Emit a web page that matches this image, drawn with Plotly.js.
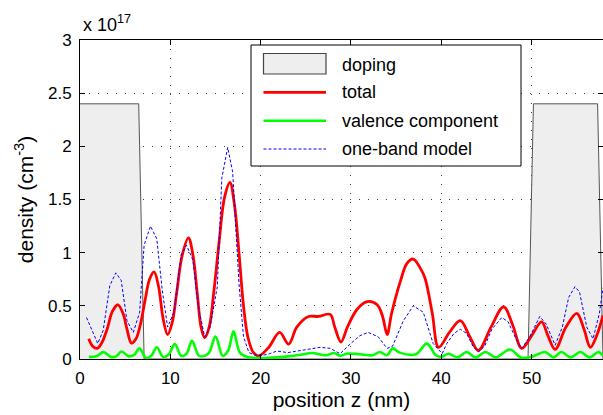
<!DOCTYPE html>
<html>
<head>
<meta charset="utf-8">
<script src="https://cdn.plot.ly/plotly-3.0.1.min.js"></script>
<style>
html,body{margin:0;padding:0;background:#fff;}
#chart{width:603px;height:415px;}
</style>
</head>
<body>
<div id="chart"></div>
<script>
// ---- data (density in units of 1e17 cm^-3, position in nm) ----
var dopingZ = [0, 6.5, 7.1, 49.6, 50.2, 57.3, 57.9];
var dopingV = [2.4, 2.4, 0, 0, 2.4, 2.4, 0];

var totalZ = [0.97,1.4,1.9,2.4,3.0,3.6,4.2,4.8,5.2,5.7,6.2,6.7,7.2,7.7,8.2,8.7,9.2,9.7,10.2,10.7,11.3,12.0,12.5,13.0,13.4,13.8,14.3,14.8,15.4,16.0,16.6,17.1,17.6,18.1,18.6,19.2,19.8,20.9,22.1,23.1,24.0,25.3,26.4,27.7,28.2,28.9,29.6,30.7,31.8,32.9,33.5,34.0,34.5,35.5,36.2,36.9,37.7,38.2,39.0,39.7,40.9,42.1,43.1,44.1,45.5,46.9,47.9,48.9,50.0,51.1,51.8,52.6,53.8,55.0,55.8,56.5,57.2,57.9];
var totalV = [0.19,0.12,0.10,0.15,0.28,0.45,0.51,0.42,0.28,0.15,0.19,0.33,0.55,0.75,0.82,0.68,0.38,0.23,0.34,0.62,0.97,1.14,0.98,0.60,0.30,0.20,0.30,0.62,1.10,1.52,1.66,1.45,1.00,0.50,0.20,0.06,0.03,0.11,0.25,0.14,0.30,0.40,0.40,0.42,0.30,0.16,0.30,0.47,0.54,0.51,0.40,0.23,0.43,0.74,0.90,0.94,0.85,0.76,0.43,0.11,0.25,0.36,0.22,0.08,0.30,0.49,0.32,0.10,0.22,0.35,0.22,0.09,0.30,0.43,0.28,0.11,0.22,0.41];

var valenceZ = [1.0,1.8,2.6,3.4,4.0,4.6,5.4,6.0,6.6,7.3,7.9,8.5,9.2,9.8,10.5,11.2,11.8,12.4,13.2,14.2,15.0,15.8,16.4,17.0,17.7,18.5,19.5,20.5,21.8,23.0,24.4,25.7,27.2,28.1,28.8,29.5,31.0,32.4,33.2,34.0,34.6,35.4,37.2,38.4,39.4,40.0,40.8,41.8,42.8,43.8,44.9,46.0,47.6,48.8,50.0,51.5,52.4,53.3,54.3,55.4,56.4,57.4,57.9];
var valenceV = [0.02,0.025,0.065,0.02,0.025,0.07,0.025,0.04,0.10,0.01,0.03,0.11,0.02,0.04,0.14,0.03,0.05,0.17,0.03,0.05,0.21,0.03,0.08,0.26,0.06,0.02,0.01,0.01,0.015,0.025,0.04,0.056,0.035,0.056,0.03,0.05,0.045,0.035,0.066,0.035,0.10,0.06,0.045,0.145,0.035,0.02,0.05,0.015,0.066,0.015,0.066,0.015,0.09,0.015,0.02,0.066,0.015,0.066,0.015,0.066,0.015,0.066,0.03];

var oneBandZ = [0.72,1.97,2.57,3.3,3.96,4.56,5.2,5.9,6.6,7.1,7.8,8.5,9.1,9.7,10.4,11.2,11.8,12.5,13.1,13.8,14.4,15.2,15.7,16.35,16.9,17.6,18.1,18.7,19.3,20.0,21.0,21.8,23.0,24.4,25.5,26.6,27.7,28.8,29.9,31.0,31.9,33.0,34.0,34.6,35.8,36.9,38.0,39.1,40.1,40.6,41.4,42.1,42.8,43.5,44.1,44.8,45.6,46.7,47.4,48.2,48.9,49.8,50.9,51.6,52.6,53.4,54.1,54.8,55.3,56.1,56.8,57.5,57.9];
var oneBandV = [0.39,0.145,0.27,0.69,0.81,0.74,0.36,0.25,0.44,1.07,1.25,1.13,0.65,0.30,0.44,0.98,1.07,0.93,0.49,0.21,0.30,0.68,1.70,1.99,1.76,0.71,0.21,0.06,0.04,0.03,0.05,0.075,0.06,0.08,0.10,0.11,0.10,0.05,0.14,0.22,0.25,0.21,0.10,0.12,0.36,0.50,0.44,0.145,0.05,0.145,0.24,0.28,0.24,0.12,0.066,0.12,0.28,0.39,0.35,0.20,0.10,0.21,0.40,0.33,0.13,0.30,0.58,0.68,0.63,0.30,0.19,0.43,0.67];

var xTicks = [0, 10, 20, 30, 40, 50];
var yTicks = [0, 0.5, 1, 1.5, 2, 2.5, 3];
var yTickText = ['0', '0.5', '1', '1.5', '2', '2.5', '3'];
var seriesNames = ['doping', 'total', 'valence component', 'one-band model'];

// ---- layout helpers ----
var W = 603, H = 415, ML = 80, MR = 0, MT = 40, MB = 56;
var PW = W - ML - MR, PH = H - MT - MB;
function px2x(px) { return (px - ML) / PW; }
function py2y(py) { return (H - MB - py) / PH; }

var FONT = 'Liberation Sans, Arial, Helvetica, sans-serif';
var RED = 'rgb(255,0,0)', GREEN = 'rgb(0,255,0)', BLUE = 'rgb(0,0,255)';

var traces = [
  {x: dopingZ, y: dopingV, name: seriesNames[0], type: 'scatter', mode: 'lines',
   fill: 'tozeroy', fillcolor: '#eeeeee', line: {color: '#555555', width: 1}},
  {x: totalZ, y: totalV, name: seriesNames[1], type: 'scatter', mode: 'lines',
   line: {color: RED, width: 2.8, shape: 'spline', smoothing: 1}},
  {x: valenceZ, y: valenceV, name: seriesNames[2], type: 'scatter', mode: 'lines',
   line: {color: GREEN, width: 2.6, shape: 'spline', smoothing: 1}},
  {x: oneBandZ, y: oneBandV, name: seriesNames[3], type: 'scatter', mode: 'lines',
   line: {color: BLUE, width: 1, dash: '3px,2px'}}
];

// ---- manual legend (box, swatches, labels) ----
var shapes = [];
var annotations = [];
var LX0 = 251, LX1 = 521, LY0 = 45, LY1 = 166;
shapes.push({type: 'rect', xref: 'paper', yref: 'paper', x0: px2x(LX0), x1: px2x(LX1), y0: py2y(LY0), y1: py2y(LY1),
  line: {color: '#000', width: 1}, fillcolor: '#ffffff', layer: 'above'});
var rowY = [64.5, 92.3, 120.7, 149];
var sw0 = 263.5, sw1 = 326;
shapes.push({type: 'rect', xref: 'paper', yref: 'paper', x0: px2x(sw0), x1: px2x(sw1), y0: py2y(53.5), y1: py2y(74),
  line: {color: '#444', width: 1.2}, fillcolor: '#eeeeee', layer: 'above'});
shapes.push({type: 'line', xref: 'paper', yref: 'paper', x0: px2x(sw0), x1: px2x(sw1), y0: py2y(rowY[1]), y1: py2y(rowY[1]),
  line: {color: RED, width: 2.8}, layer: 'above'});
shapes.push({type: 'line', xref: 'paper', yref: 'paper', x0: px2x(sw0), x1: px2x(sw1), y0: py2y(rowY[2]), y1: py2y(rowY[2]),
  line: {color: GREEN, width: 2.6}, layer: 'above'});
shapes.push({type: 'line', xref: 'paper', yref: 'paper', x0: px2x(sw0), x1: px2x(sw1), y0: py2y(rowY[3]), y1: py2y(rowY[3]),
  line: {color: BLUE, width: 1, dash: '3px,2px'}, layer: 'above'});
for (var i = 0; i < seriesNames.length; i++) {
  annotations.push({xref: 'paper', yref: 'paper', x: px2x(340), y: py2y(rowY[i]), xanchor: 'left', yanchor: 'middle',
    text: seriesNames[i], showarrow: false, font: {family: FONT, size: 18, color: '#000'}});
}
// exponent label
annotations.push({xref: 'paper', yref: 'paper', x: px2x(81), y: py2y(24), xanchor: 'left', yanchor: 'middle',
  text: 'x 10<sup>17</sup>', showarrow: false, font: {family: FONT, size: 18, color: '#000'}});

var layout = {
  width: W, height: H,
  margin: {l: ML, r: MR, t: MT, b: MB, pad: 0},
  paper_bgcolor: '#fff', plot_bgcolor: '#fff',
  showlegend: false,
  font: {family: FONT, color: '#000'},
  xaxis: {
    range: [0, 57.9], tickvals: xTicks, ticktext: xTicks.map(String),
    ticks: 'inside', ticklen: 5, tickcolor: '#000', tickwidth: 1,
    showline: true, linecolor: '#000', linewidth: 1, mirror: 'ticks',
    showgrid: true, gridcolor: '#444', gridwidth: 1, griddash: '1px,8px',
    zeroline: false, tickfont: {family: FONT, size: 17, color: '#000'},
    ticklabelstandoff: 4,
    title: {text: 'position z (nm)', font: {family: FONT, size: 21, color: '#000'}, standoff: 4}
  },
  yaxis: {
    range: [0, 3], tickvals: yTicks, ticktext: yTickText,
    ticks: 'inside', ticklen: 5, tickcolor: '#000', tickwidth: 1,
    showline: true, linecolor: '#000', linewidth: 1, mirror: 'ticks',
    showgrid: true, gridcolor: '#444', gridwidth: 1, griddash: '1px,8px',
    zeroline: false, tickfont: {family: FONT, size: 17, color: '#000'},
    ticklabelstandoff: 4,
    title: {text: 'density (cm<sup>-3</sup>)', font: {family: FONT, size: 21, color: '#000'}, standoff: 8}
  },
  shapes: shapes,
  annotations: annotations
};

Plotly.newPlot('chart', traces, layout, {displayModeBar: false, staticPlot: true});
</script>
</body>
</html>
